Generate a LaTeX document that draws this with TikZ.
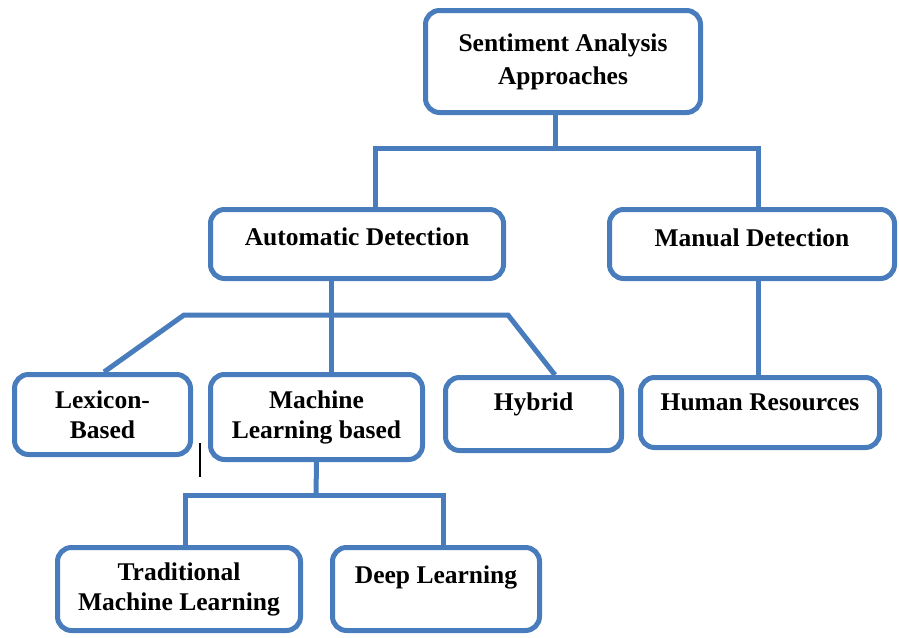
\documentclass[tikz,border=0pt]{standalone}
\usepackage{fontspec}
\setmainfont{Liberation Serif}
\definecolor{sablue}{RGB}{72,124,188}
\tikzset{
  box/.style={draw=sablue, line width=5pt, rounded corners=14pt, fill=white,
    font=\fontsize{25.5}{30}\selectfont\bfseries, align=center, inner sep=0pt},
  link/.style={draw=sablue, line width=5pt}
}
\begin{document}
\begin{tikzpicture}[x=1pt, y=-1pt]
    \useasboundingbox (0,0) rectangle (899,637);

    % Top level
    \node[box, minimum width=275pt, minimum height=102pt, font=\fontsize{25.5}{33}\selectfont\bfseries] (root) at (563,61.5) {Sentiment Analysis\\Approaches};
    \node[box, minimum width=293pt, text height=35.5pt, text depth=33.5pt] (auto) at (357,244) {Automatic Detection};
    \node[box, minimum width=285pt, text height=36.5pt, text depth=32.5pt] (manual) at (752,244) {Manual Detection};

    % Third row
    \node[box, minimum width=176pt, minimum height=80pt] (lex) at (102.5,414.5) {Lexicon-\\Based};
    \node[box, minimum width=212pt, minimum height=85pt] (ml) at (316.5,417) {Machine\\Learning based};
    \node[box, minimum width=176pt, text height=32.5pt, text depth=40.5pt] (hyb) at (533.5,414) {Hybrid};
    \node[box, minimum width=239pt, text height=32.5pt, text depth=37.5pt] (human) at (760,412.5) {Human Resources};

    % Bottom row
    \node[box, minimum width=243pt, minimum height=83pt] (trad) at (179,589) {Traditional\\Machine Learning};
    \node[box, minimum width=207pt, text height=35.5pt, text depth=47.5pt] (deep) at (436,589) {Deep Learning};

    % Junctions
    \coordinate (jTop) at (555,148);
    \coordinate (kL) at (184,315);
    \coordinate (kR) at (508,315);
    \coordinate (jML) at (316,495);

    % Connectors
    \draw[link] ([xshift=-8pt]root.south) -- (jTop);
    \draw[link] ([xshift=18pt]auto.north) |- (jTop) -| ([xshift=6pt]manual.north);
    \draw[link] ([xshift=-26pt]auto.south) -- ([xshift=14.5pt]ml.north);
    \draw[link] ([xshift=1.5pt]lex.north) -- (kL) -- (kR) -- ([xshift=21.5pt]hyb.north);
    \draw[link] ([xshift=6pt]manual.south) -- ([xshift=-2pt]human.north);
    \draw[link] (ml.south) -- (jML);
    \draw[link] ([xshift=6pt]trad.north) |- (jML) -| ([xshift=7pt]deep.north);

    % stray mark
    \draw[line width=2pt] (200,443) -- (200,477);
\end{tikzpicture}
\end{document}
